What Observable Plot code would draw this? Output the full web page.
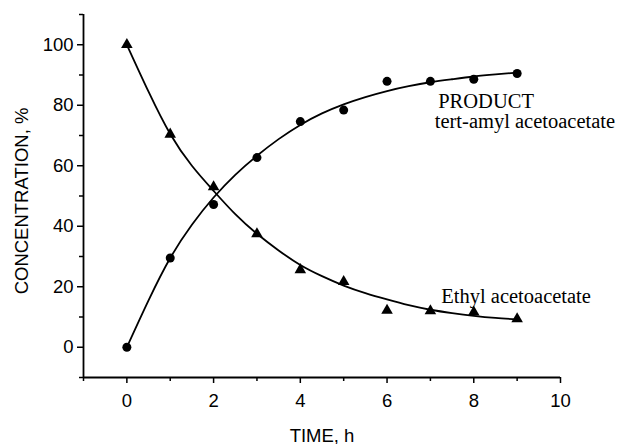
<!DOCTYPE html>
<html>
<head>
<meta charset="utf-8">
<script src="https://cdn.jsdelivr.net/npm/d3@7"></script>
<script src="https://cdn.jsdelivr.net/npm/@observablehq/plot@0.6"></script>
<style>
  html, body { margin: 0; padding: 0; background: #fff; }
  #chart { width: 632px; height: 444px; }
</style>
</head>
<body>
<div id="chart"></div>
<script>
// Measured points
const time = [0, 1, 2, 3, 4, 5, 6, 7, 8, 9];
const productValues = [0, 29.5, 47.2, 62.7, 74.6, 78.4, 87.9, 87.9, 88.6, 90.5];
const ethylValues = [100, 70.4, 53, 37.5, 25.6, 21.7, 12.2, 12.0, 11.6, 9.4];

// Fitted curves
const fitTime = [0, 0.5, 1, 1.5, 2, 2.5, 3, 3.5, 4, 4.5, 5, 5.5, 6, 6.5, 7, 7.5, 8, 8.5, 9];
const productFit = [0, 15.5, 29.5, 40.5, 49.5, 57, 63.3, 68.8, 73.5, 77.3, 80.3, 82.7, 84.7, 86.3, 87.6, 88.6, 89.5, 90.2, 90.8];
const ethylFit = [100, 84.5, 70.5, 60, 51.7, 44, 37.5, 32, 27.2, 23.5, 20.4, 17.9, 15.8, 13.9, 12.4, 11.3, 10.4, 9.7, 9.2];

// Ticks
const xMajorTicks = [0, 2, 4, 6, 8, 10];
const xMinorTicks = [-1, 1, 3, 5, 7, 9];
const yMajorTicks = [0, 20, 40, 60, 80, 100];
const yMinorTicks = [-10, 10, 30, 50, 70, 90, 110];

// Axis titles
const xTitle = "TIME, h";
const yTitle = "CONCENTRATION, %";

// Annotations (data coordinates)
const noteText = ["PRODUCT", "tert-amyl acetoacetate", "Ethyl acetoacetate"];
const noteX = [7.18, 7.1, 7.25];
const noteY = [81.4, 74.6, 16.8];

const points = time.map((t, i) => ({t, product: productValues[i], ethyl: ethylValues[i]}));
const fit = fitTime.map((t, i) => ({t, product: productFit[i], ethyl: ethylFit[i]}));
const notes = noteText.map((s, i) => ({s, x: noteX[i], y: noteY[i]}));

const chart = Plot.plot({
  width: 632,
  height: 444,
  marginLeft: 83,
  marginRight: 72,
  marginTop: 14,
  marginBottom: 67,
  style: {fontFamily: "'Liberation Sans', Arial, sans-serif", fontSize: "18.5px", color: "#000", background: "#fff", overflow: "visible"},
  x: {domain: [-1, 10]},
  y: {domain: [-10, 110]},
  marks: [
    Plot.axisX({ticks: xMajorTicks, tickSize: 6, tickPadding: 10, strokeWidth: 1.5, label: null, fontSize: 18.5}),
    Plot.axisX({ticks: xMinorTicks, tickSize: 4, tickFormat: () => "", strokeWidth: 1.5, label: null}),
    Plot.axisY({ticks: yMajorTicks, tickSize: 6, tickPadding: 4, strokeWidth: 1.5, label: null, fontSize: 18.5}),
    Plot.axisY({ticks: yMinorTicks, tickSize: 4, tickFormat: () => "", strokeWidth: 1.5, label: null}),
    Plot.text([xTitle], {frameAnchor: "bottom", dy: 64, fontSize: 18.5, fill: "#000"}),
    Plot.text([yTitle], {frameAnchor: "left", textAnchor: "middle", lineAnchor: "middle", rotate: -90, dx: -61, dy: 5, fontSize: 18.5, fill: "#000"}),
    Plot.ruleX([-1], {stroke: "#000", strokeWidth: 1.8}),
    Plot.ruleY([-10], {stroke: "#000", strokeWidth: 1.8}),
    Plot.line(fit, {x: "t", y: "product", curve: "natural", stroke: "#000", strokeWidth: 1.8}),
    Plot.line(fit, {x: "t", y: "ethyl", curve: "natural", stroke: "#000", strokeWidth: 1.8}),
    Plot.dot(points, {x: "t", y: "product", r: 4.5, fill: "#000", symbol: "circle"}),
    Plot.dot(points, {x: "t", y: "ethyl", r: 4.3, fill: "#000", symbol: "triangle"}),
    Plot.text(notes, {x: "x", y: "y", text: "s", textAnchor: "start", fontFamily: "'Liberation Serif', 'Times New Roman', serif", fontSize: 20.5, fill: "#000"})
  ]
});
document.getElementById("chart").appendChild(chart);
</script>
</body>
</html>
